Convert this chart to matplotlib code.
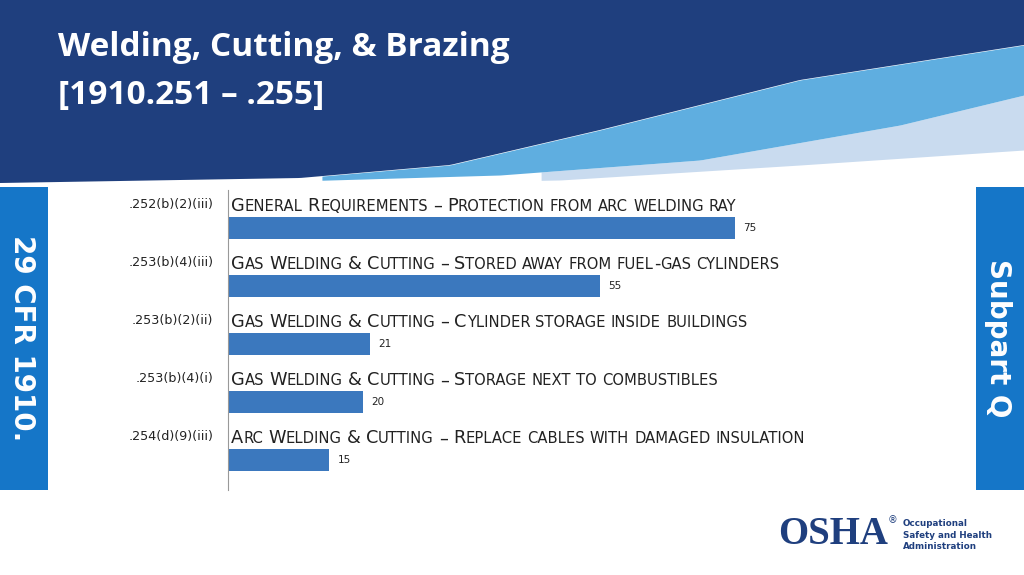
import matplotlib
matplotlib.use("Agg")
import matplotlib.pyplot as plt
import numpy as np

codes = [".252(b)(2)(iii)", ".253(b)(4)(iii)", ".253(b)(2)(ii)", ".253(b)(4)(i)", ".254(d)(9)(iii)"]
titles = ["General Requirements – Protection from arc welding ray",
          "Gas Welding & Cutting – Stored away from fuel-gas cylinders",
          "Gas Welding & Cutting – Cylinder storage inside buildings",
          "Gas Welding & Cutting – Storage next to combustibles",
          "Arc Welding & Cutting – Replace cables with damaged insulation"]
values = [75, 55, 21, 20, 15]

W, H = 1024, 575
fig = plt.figure(figsize=(W/100, H/100), dpi=100)
fig.patch.set_facecolor("white")

bg = fig.add_axes([0, 0, 1, 1])
bg.set_xlim(0, W); bg.set_ylim(H, 0); bg.axis("off")
xs = np.linspace(0, W, 300)
dark_b = np.interp(xs, [0, 300, 450, 600, 800, 1024], [183, 178, 165, 130, 80, 45])
light_b = np.interp(xs, [0, 330, 500, 700, 900, 1024], [190, 180, 175, 160, 125, 95])
pale_b = np.interp(xs, [0, 560, 800, 1024], [190, 180, 165, 150])
bg.fill_between(xs, pale_b, light_b, where=xs > 540, color="#C9DBEF", lw=0)
bg.fill_between(xs, np.maximum(light_b, dark_b), dark_b, where=xs > 320, color="#5FAEE0", lw=0)
bg.fill_between(xs, 0, dark_b, color="#1F3F7E", lw=0)
bg.text(58, 48, "Welding, Cutting, & Brazing", color="white", fontsize=24, fontweight="bold", va="center", family="Open Sans")
bg.text(58, 96, "[1910.251 – .255]", color="white", fontsize=24, fontweight="bold", va="center", family="Open Sans")
bg.add_patch(plt.Rectangle((0, 187), 48, 303, color="#1576C8", lw=0))
bg.add_patch(plt.Rectangle((976, 187), 48, 303, color="#1576C8", lw=0))
bg.text(22, 338, "29 CFR 1910.", rotation=-90, color="white", fontsize=20, fontweight="bold", ha="center", va="center")
bg.text(998, 338, "Subpart Q", rotation=-90, color="white", fontsize=20, fontweight="bold", ha="center", va="center")
bg.text(778, 535, "OSHA", color="#1F3F7E", fontsize=28, fontweight="bold", family="Liberation Serif", va="center")
bg.text(888, 520, "®", color="#1F3F7E", fontsize=7, va="center")
bg.text(903, 535, "Occupational\nSafety and Health\nAdministration", color="#1F3F7E", fontsize=6.3, fontweight="bold", va="center", linespacing=1.3)

ax = fig.add_axes([228/W, 1-490/H, 676/W, 300/H])
ax.set_xlim(0, 100)
ax.set_ylim(4.52, -0.655)
idx = np.arange(len(values))
ax.barh(idx, values, height=0.38, color="#3B78BE")
for s in ["top", "right", "bottom"]:
    ax.spines[s].set_visible(False)
ax.spines["left"].set_color("#999999")
ax.set_xticks([]); ax.set_yticks([])
for i, v in enumerate(values):
    ax.text(v + 1.2, i, str(v), fontsize=7.5, va="center", color="#222222")
    ax.text(-2.2, i - 0.4, codes[i], fontsize=9.2, ha="right", va="center", color="#222222")

fig.canvas.draw()
renderer = fig.canvas.get_renderer()

def smallcaps(x_px, y_px, s, big=12.8, small=10.6):
    x = x_px
    for word in s.split(" "):
        pieces = []
        cur = ""; cur_big = None
        for ch in word:
            b = not ch.islower()
            if cur_big is None or b == cur_big:
                cur += ch; cur_big = b
            else:
                pieces.append((cur, cur_big)); cur = ch; cur_big = b
        if cur:
            pieces.append((cur, cur_big))
        for txt, b in pieces:
            t = fig.text(x / W, 1 - y_px / H, txt.upper(), fontsize=big if b else small,
                         va="baseline", ha="left", color="#222222")
            bb = t.get_window_extent(renderer)
            x += bb.width
        x += big * 0.4

for i, t in enumerate(titles):
    y = 228 + 58.1 * i - 23 + 6
    smallcaps(231, y, t)

fig.savefig("out.png", dpi=100)
